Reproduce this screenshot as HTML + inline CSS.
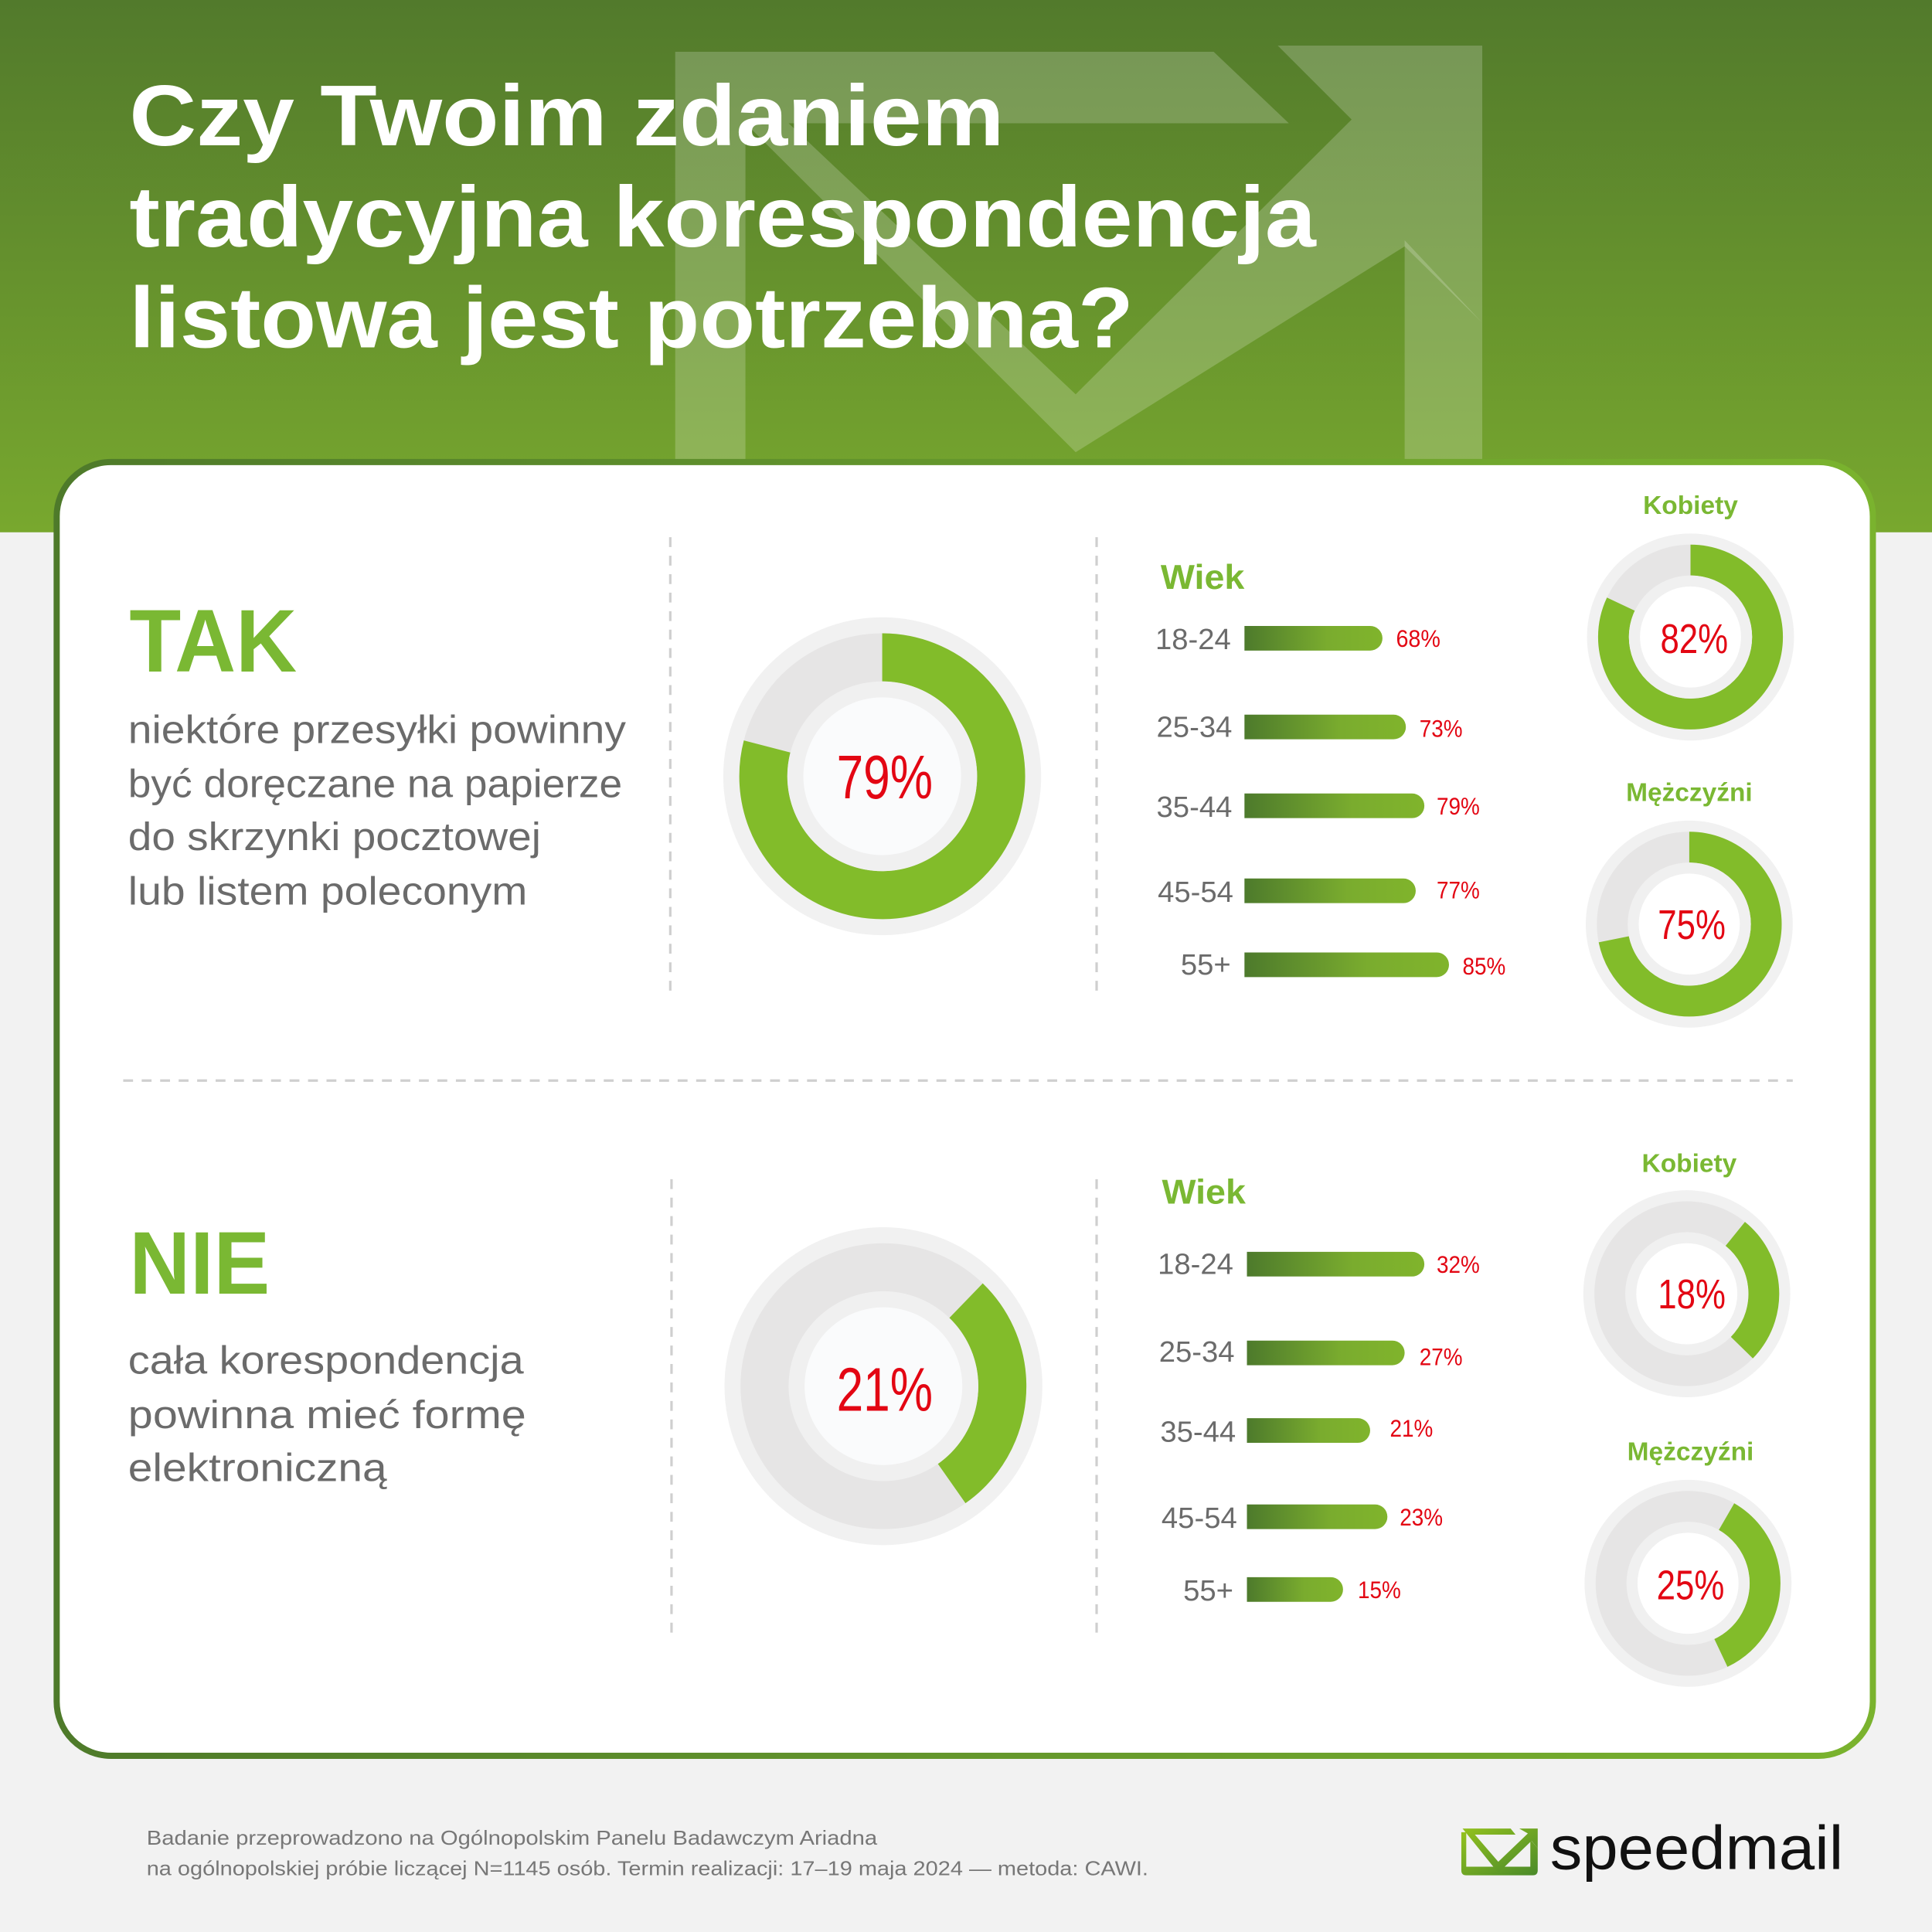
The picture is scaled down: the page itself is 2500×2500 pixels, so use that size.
<!DOCTYPE html>
<html><head><meta charset="utf-8"><style>
html,body{margin:0;padding:0;background:#f2f2f2}
svg{display:block}
</style></head><body>
<svg width="2500" height="2500" viewBox="0 0 1568 1568" xmlns="http://www.w3.org/2000/svg" font-family="'Liberation Sans', sans-serif">
<defs>
<linearGradient id="hdr" x1="0" y1="0" x2="0" y2="1"><stop offset="0" stop-color="#527a2c"/><stop offset="1" stop-color="#78a82e"/></linearGradient>
<linearGradient id="bar" x1="0" y1="0" x2="1" y2="0"><stop offset="0" stop-color="#4d7a2c"/><stop offset="0.6" stop-color="#7aac2e"/><stop offset="1" stop-color="#80b42c"/></linearGradient>
<linearGradient id="brd" x1="0" y1="0" x2="1" y2="0"><stop offset="0" stop-color="#4e7a2a"/><stop offset="1" stop-color="#7ab32e"/></linearGradient>
<linearGradient id="env" x1="0" y1="0" x2="1" y2="1"><stop offset="0" stop-color="#93c11f"/><stop offset="1" stop-color="#4a8a2a"/></linearGradient>
</defs>
<rect width="1568" height="1568" fill="#f2f2f2"/>
<rect width="1568" height="432" fill="url(#hdr)"/>
<g fill="#ffffff" fill-opacity="0.2">
<polygon points="548,42 985,42 1046,100 640,100 873,320 1097,97 1037,37 1203,37 1203,262 1140,200 873,367 605,100 605,432 548,432"/>
<polygon points="1140,195 1203,262 1203,432 1140,432"/>
</g>
<g fill="#fff" font-weight="bold" font-size="70">
<text x="105" y="118" textLength="710" lengthAdjust="spacingAndGlyphs">Czy Twoim zdaniem</text>
<text x="105" y="200" textLength="963" lengthAdjust="spacingAndGlyphs">tradycyjna korespondencja</text>
<text x="105" y="282" textLength="815" lengthAdjust="spacingAndGlyphs">listowa jest potrzebna?</text>
</g>
<rect x="46" y="375" width="1474" height="1050" rx="44" fill="#fff" stroke="url(#brd)" stroke-width="5"/>
<g stroke="#cfcfcf" stroke-width="2" stroke-dasharray="8,7">
<line x1="544" y1="436" x2="544" y2="805"/><line x1="890" y1="436" x2="890" y2="805"/>
<line x1="545" y1="957" x2="545" y2="1325"/><line x1="890" y1="957" x2="890" y2="1325"/>
<line x1="100" y1="877" x2="1455" y2="877"/>
</g>
<g fill="#7ab833" font-weight="bold">
<text x="105" y="545" font-size="72" textLength="136" lengthAdjust="spacingAndGlyphs">TAK</text>
<text x="105" y="1050" font-size="72" textLength="114" lengthAdjust="spacingAndGlyphs">NIE</text>
<text x="942" y="478" font-size="28" textLength="68" lengthAdjust="spacingAndGlyphs">Wiek</text>
<text x="943" y="977" font-size="28" textLength="68" lengthAdjust="spacingAndGlyphs">Wiek</text>
<g font-size="21" text-anchor="middle">
<text x="1372" y="417">Kobiety</text><text x="1371" y="650">Mężczyźni</text>
<text x="1371" y="951">Kobiety</text><text x="1372" y="1185">Mężczyźni</text>
</g>
</g>
<g fill="#6b6b6b" font-size="32">
<text x="104" y="603" textLength="404" lengthAdjust="spacingAndGlyphs">niektóre przesyłki powinny</text>
<text x="104" y="647" textLength="401" lengthAdjust="spacingAndGlyphs">być doręczane na papierze</text>
<text x="104" y="690" textLength="335" lengthAdjust="spacingAndGlyphs">do skrzynki pocztowej</text>
<text x="104" y="734" textLength="324" lengthAdjust="spacingAndGlyphs">lub listem poleconym</text>
<text x="104" y="1115" textLength="321" lengthAdjust="spacingAndGlyphs">cała korespondencja</text>
<text x="104" y="1159" textLength="323" lengthAdjust="spacingAndGlyphs">powinna mieć formę</text>
<text x="104" y="1202" textLength="210" lengthAdjust="spacingAndGlyphs">elektroniczną</text>
</g>
<!-- big donuts -->
<g>
<circle cx="716" cy="630" r="129" fill="#f1f1f1"/>
<circle cx="716" cy="630" r="116" fill="#e6e5e5"/>
<circle cx="716" cy="630" r="96.5" fill="none" stroke="#82bc2a" stroke-width="39" stroke-dasharray="479 1000" transform="rotate(-90 716 630)"/>
<circle cx="716" cy="630" r="77" fill="#f0f0f0"/>
<circle cx="716" cy="630" r="64" fill="#fafbfc"/>
<circle cx="717" cy="1125" r="129" fill="#f1f1f1"/>
<circle cx="717" cy="1125" r="116" fill="#e6e5e5"/>
<circle cx="717" cy="1125" r="96.5" fill="none" stroke="#82bc2a" stroke-width="39" stroke-dasharray="170 1000" transform="rotate(-46 717 1125)"/>
<circle cx="717" cy="1125" r="77" fill="#f0f0f0"/>
<circle cx="717" cy="1125" r="64" fill="#fafbfc"/>
</g>
<!-- small donuts -->
<g>
<circle cx="1372" cy="517" r="84" fill="#f1f1f1"/><circle cx="1372" cy="517" r="75" fill="#e6e5e5"/>
<circle cx="1372" cy="517" r="62.5" fill="none" stroke="#82bc2a" stroke-width="25" stroke-dasharray="322 1000" transform="rotate(-90 1372 517)"/>
<circle cx="1372" cy="517" r="50" fill="#f0f0f0"/><circle cx="1372" cy="517" r="41" fill="#fff"/>
<circle cx="1371" cy="750" r="84" fill="#f1f1f1"/><circle cx="1371" cy="750" r="75" fill="#e6e5e5"/>
<circle cx="1371" cy="750" r="62.5" fill="none" stroke="#82bc2a" stroke-width="25" stroke-dasharray="282 1000" transform="rotate(-90 1371 750)"/>
<circle cx="1371" cy="750" r="50" fill="#f0f0f0"/><circle cx="1371" cy="750" r="41" fill="#fff"/>
<circle cx="1369" cy="1050" r="84" fill="#f1f1f1"/><circle cx="1369" cy="1050" r="75" fill="#e6e5e5"/>
<circle cx="1369" cy="1050" r="62.5" fill="none" stroke="#82bc2a" stroke-width="25" stroke-dasharray="104 1000" transform="rotate(-51 1369 1050)"/>
<circle cx="1369" cy="1050" r="50" fill="#f0f0f0"/><circle cx="1369" cy="1050" r="41" fill="#fff"/>
<circle cx="1370" cy="1285" r="84" fill="#f1f1f1"/><circle cx="1370" cy="1285" r="75" fill="#e6e5e5"/>
<circle cx="1370" cy="1285" r="62.5" fill="none" stroke="#82bc2a" stroke-width="25" stroke-dasharray="136 1000" transform="rotate(-60 1370 1285)"/>
<circle cx="1370" cy="1285" r="50" fill="#f0f0f0"/><circle cx="1370" cy="1285" r="41" fill="#fff"/>
</g>
<g fill="#e30613" text-anchor="middle">
<text x="718" y="648" font-size="50" textLength="78" lengthAdjust="spacingAndGlyphs">79%</text>
<text x="718" y="1145" font-size="50" textLength="78" lengthAdjust="spacingAndGlyphs">21%</text>
<g font-size="34">
<text x="1375" y="530" textLength="55" lengthAdjust="spacingAndGlyphs">82%</text>
<text x="1373" y="762" textLength="55" lengthAdjust="spacingAndGlyphs">75%</text>
<text x="1373" y="1062" textLength="55" lengthAdjust="spacingAndGlyphs">18%</text>
<text x="1372" y="1298" textLength="55" lengthAdjust="spacingAndGlyphs">25%</text>
</g>
</g>
<!-- bars -->
<g fill="url(#bar)">
<path d="M1010,508 H1112 a10,10 0 0 1 0,20 H1010 Z"/>
<path d="M1010,580 H1131 a10,10 0 0 1 0,20 H1010 Z"/>
<path d="M1010,644 H1146 a10,10 0 0 1 0,20 H1010 Z"/>
<path d="M1010,713 H1139 a10,10 0 0 1 0,20 H1010 Z"/>
<path d="M1010,773 H1166 a10,10 0 0 1 0,20 H1010 Z"/>
<path d="M1012,1016 H1146 a10,10 0 0 1 0,20 H1012 Z"/>
<path d="M1012,1088 H1130 a10,10 0 0 1 0,20 H1012 Z"/>
<path d="M1012,1151 H1102 a10,10 0 0 1 0,20 H1012 Z"/>
<path d="M1012,1221 H1116 a10,10 0 0 1 0,20 H1012 Z"/>
<path d="M1012,1280 H1080 a10,10 0 0 1 0,20 H1012 Z"/>
</g>
<g fill="#6b6b6b" font-size="24" text-anchor="end">
<text x="999" y="527">18-24</text><text x="1000" y="598">25-34</text><text x="1000" y="663">35-44</text><text x="1001" y="732">45-54</text><text x="999" y="791">55+</text>
<text x="1001" y="1034">18-24</text><text x="1002" y="1105">25-34</text><text x="1003" y="1170">35-44</text><text x="1004" y="1240">45-54</text><text x="1001" y="1299">55+</text>
</g>
<g fill="#e30613" font-size="20">
<text x="1133" y="525" textLength="36" lengthAdjust="spacingAndGlyphs">68%</text>
<text x="1152" y="598" textLength="35" lengthAdjust="spacingAndGlyphs">73%</text>
<text x="1166" y="661" textLength="35" lengthAdjust="spacingAndGlyphs">79%</text>
<text x="1166" y="729" textLength="35" lengthAdjust="spacingAndGlyphs">77%</text>
<text x="1187" y="791" textLength="35" lengthAdjust="spacingAndGlyphs">85%</text>
<text x="1166" y="1033" textLength="35" lengthAdjust="spacingAndGlyphs">32%</text>
<text x="1152" y="1108" textLength="35" lengthAdjust="spacingAndGlyphs">27%</text>
<text x="1128" y="1166" textLength="35" lengthAdjust="spacingAndGlyphs">21%</text>
<text x="1136" y="1238" textLength="35" lengthAdjust="spacingAndGlyphs">23%</text>
<text x="1102" y="1297" textLength="35" lengthAdjust="spacingAndGlyphs">15%</text>
</g>
<g fill="#777" font-size="16">
<text x="119" y="1497" textLength="593" lengthAdjust="spacingAndGlyphs">Badanie przeprowadzono na Ogólnopolskim Panelu Badawczym Ariadna</text>
<text x="119" y="1522" textLength="813" lengthAdjust="spacingAndGlyphs">na ogólnopolskiej próbie liczącej N=1145 osób. Termin realizacji: 17–19 maja 2024 — metoda: CAWI.</text>
</g>
<!-- logo -->
<g>
<path d="M1186,1487 L1190,1487 L1190,1515 L1242,1515 L1242,1493 L1248,1500 L1248,1518 Q1248,1522 1244,1522 L1190,1522 Q1186,1522 1186,1518 Z" fill="url(#env)"/>
<path d="M1187,1484 L1226,1484 L1230,1489 L1197,1489 L1216,1511 L1240,1488 L1233,1484 L1248,1484 L1248,1500 L1243,1494 L1216,1520 Z" fill="url(#env)"/>
<text x="1258" y="1517" font-size="50" fill="#111" textLength="238" lengthAdjust="spacingAndGlyphs">speedmail</text>
</g>
</svg>
</body></html>
